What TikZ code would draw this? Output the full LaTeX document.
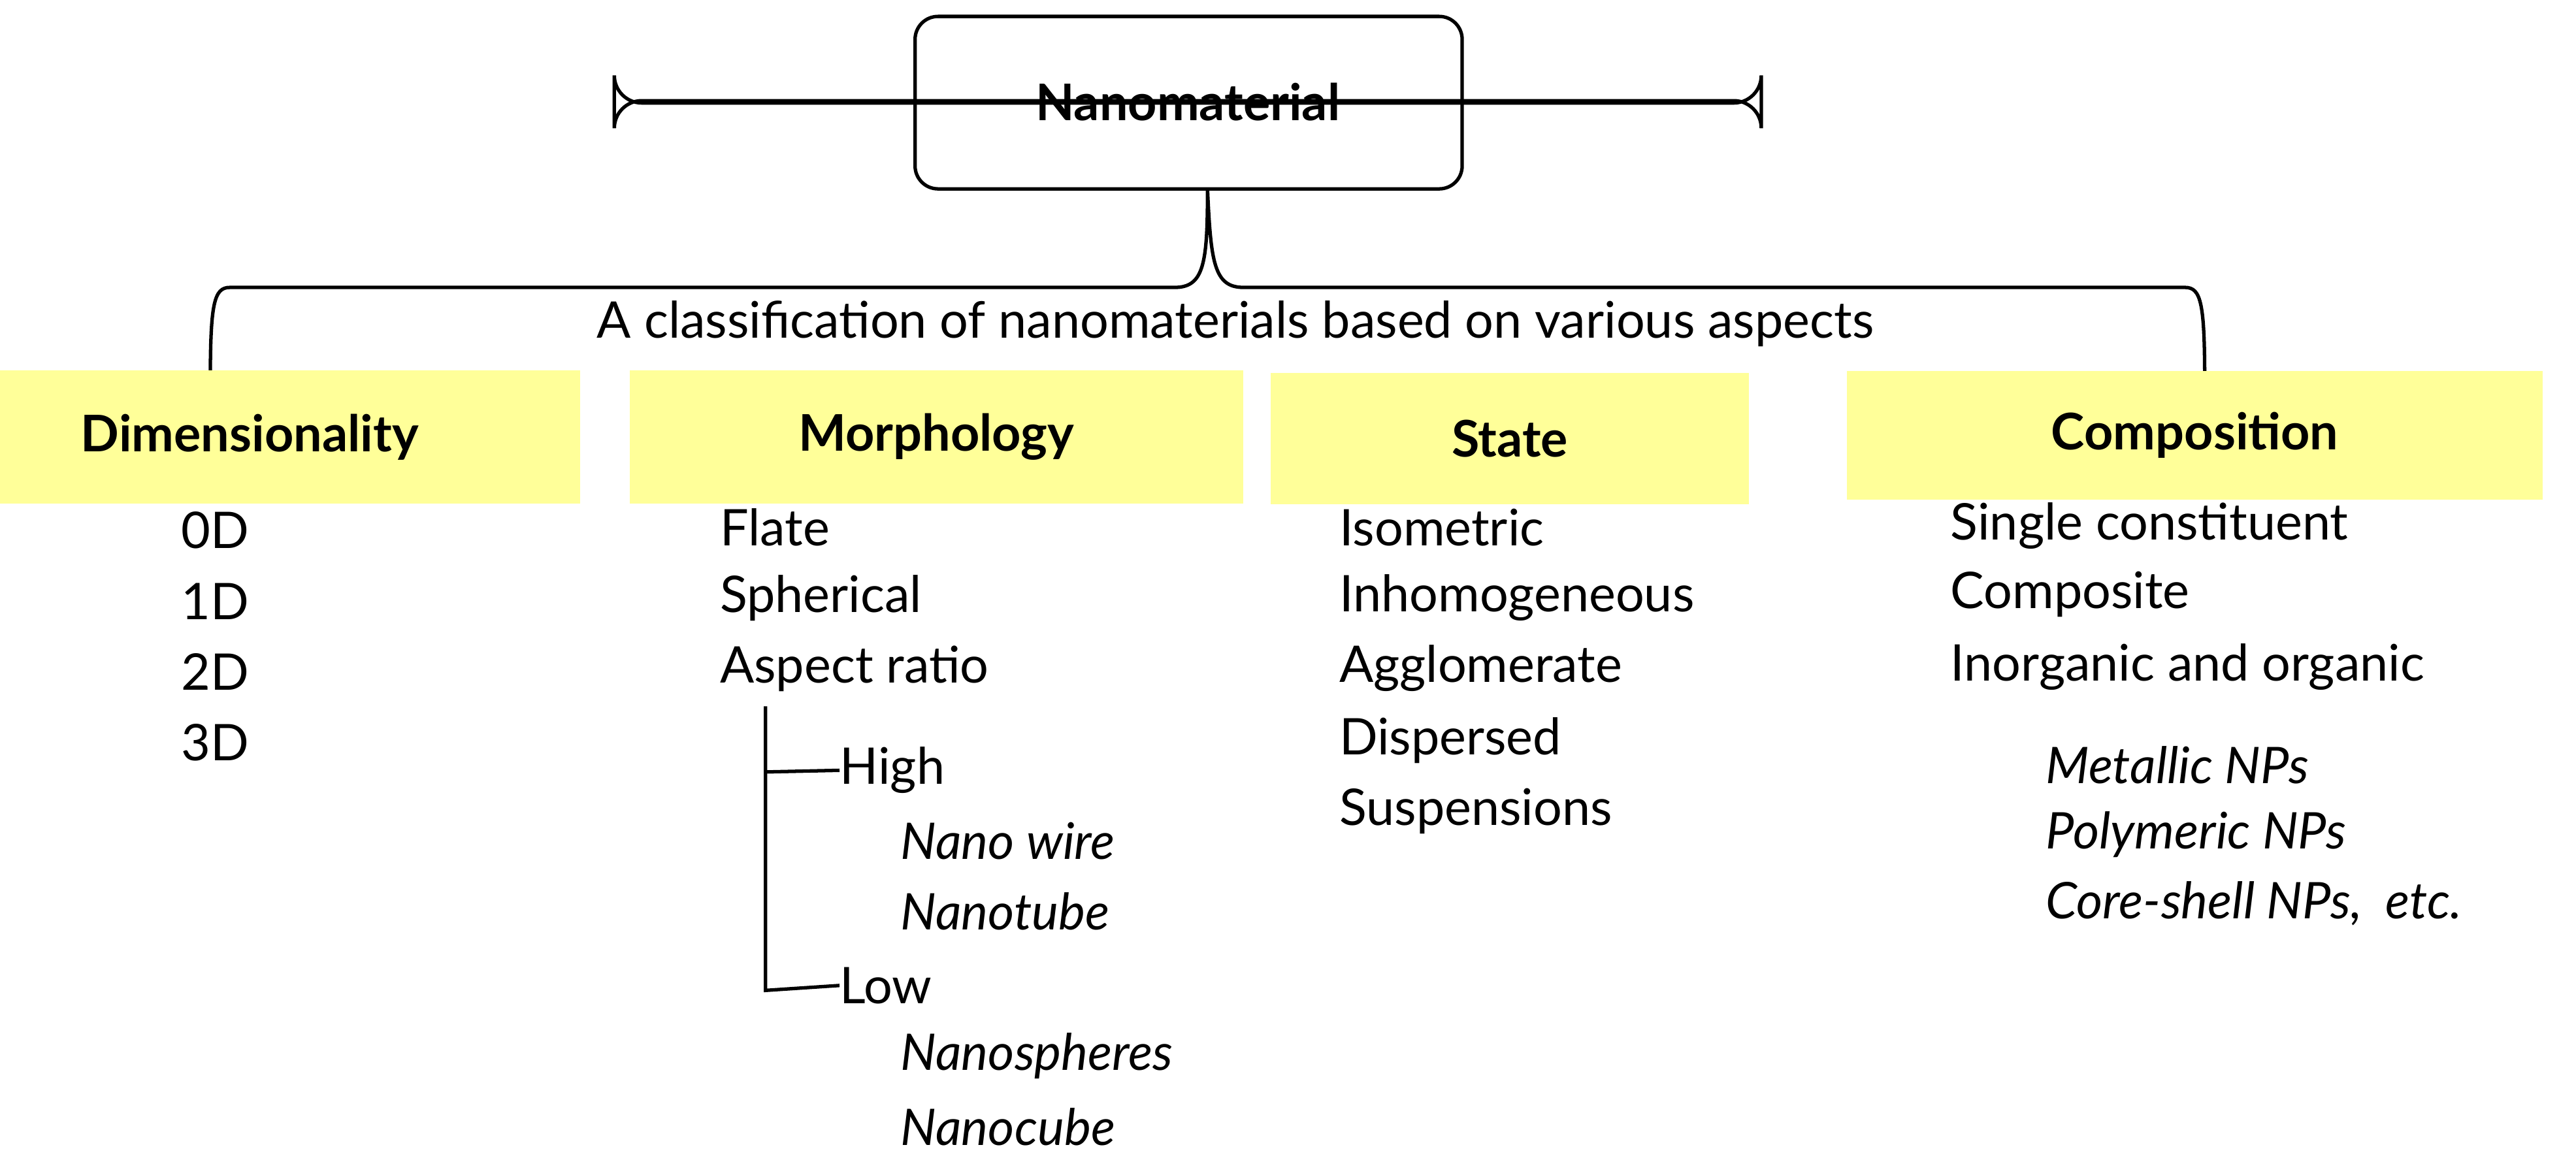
\documentclass[tikz,border=0pt]{standalone}
\usepackage{fontspec}
\setmainfont{Lato}
\begin{document}
\begin{tikzpicture}[x=0.02515cm,y=-0.02515cm,
  txt/.style={anchor=west,inner sep=0pt,font=\fontsize{22}{26}\selectfont},
  it/.style={txt,font=\fontsize{22}{26}\selectfont\itshape},
  hdr/.style={fill={rgb,255:red,255;green,255;blue,153},inner sep=0pt,font=\fontsize{22}{26}\selectfont\bfseries},
  ln/.style={line width=1.5pt}]
\useasboundingbox (0,0) rectangle (1568,706);
\node[draw,ln,rounded corners=12pt,minimum width=333\pgflinewidth,inner sep=0pt,font=\fontsize{22}{26}\selectfont\bfseries] (top) at (723,62) {};
\draw[ln,rounded corners=10pt] (557,10) rectangle (890,115);
\node[font=\fontsize{22}{26}\selectfont\bfseries] (title) at (723,62) {Nanomaterial};
\coordinate (b) at (735,115);
\draw[ln] (128,235) .. controls (128,185) and (130,175) .. (140,175) -- (715,175)
  .. controls (733,175) and (735,160) .. (b)
  .. controls (737,160) and (739,175) .. (757,175) -- (1330,175)
  .. controls (1340,175) and (1342,185) .. (1342,235);
\node[font=\fontsize{22}{26}\selectfont] (sub) at (752,197) {A classification of nanomaterials based on various aspects};
\node[hdr,minimum width=288,minimum height=58] (dim) at (152,266) {Dimensionality};
\node[hdr,minimum width=267,minimum height=58] (mor) at (570,266) {Morphology};
\node[hdr,minimum width=208,minimum height=57] (sta) at (919,267) {State};
\node[hdr,minimum width=303,minimum height=56] (com) at (1336,265) {Composition};
\node[txt] (d0) at (110,323) {0D};
\node[txt] (d1) at (110,366) {1D};
\node[txt] (d2) at (110,409) {2D};
\node[txt] (d3) at (110,452) {3D};
\node[txt] (m1) at (438,321) {Flate};
\node[txt] (m2) at (438,364) {Spherical};
\node[txt] (m3) at (438,407) {Aspect ratio};
\node[txt] (hi) at (511,469) {High};
\node[it] (nw) at (548,512) {Nano wire};
\node[it] (nt) at (548,555) {Nanotube};
\node[txt] (lo) at (511,600) {Low};
\node[it] (ns) at (548,643) {Nanospheres};
\node[it] (nc) at (548,686) {Nanocube};
\coordinate (t0) at (466,430);
\draw[ln] (t0) -- (466,603) -- (lo.west);
\draw[ln] (466,470) -- (hi.west);
\node[txt] (s1) at (815,321) {Isometric};
\node[txt] (s2) at (815,364) {Inhomogeneous};
\node[txt] (s3) at (815,407) {Agglomerate};
\node[txt] (s4) at (815,451) {Dispersed};
\node[txt] (s5) at (815,494) {Suspensions};
\node[txt] (c1) at (1187,320) {Single constituent};
\node[txt] (c2) at (1187,362) {Composite};
\node[txt] (c3) at (1187,406) {Inorganic and organic};
\node[it] (c4) at (1245,466) {Metallic NPs};
\node[it] (c5) at (1245,508) {Polymeric NPs};
\node[it] (c6) at (1245,550) {Core-shell NPs,\ \ etc.};
\end{tikzpicture}
\end{document}
